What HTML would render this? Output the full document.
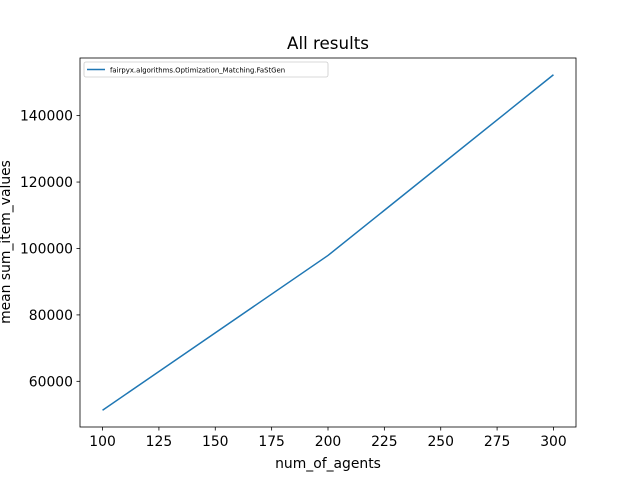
<!DOCTYPE html>
<html><head><meta charset="utf-8"><style>
body{margin:0;background:#fff;}
svg text{font-family:"DejaVu Sans","Liberation Sans",sans-serif;}
</style></head><body>
<svg id="chart" width="640" height="480" xmlns="http://www.w3.org/2000/svg">
<rect width="640" height="480" fill="#fff"/>
<text x="328" y="49" font-size="16.7" text-anchor="middle">All results</text>
<g id="xt"></g><g id="yt"></g>
<polyline id="line" fill="none" stroke="#1f77b4" stroke-width="1.5"/>
<rect x="80" y="58" width="496" height="369" fill="none" stroke="#000" stroke-width="0.8"/>
<text x="328" y="468" font-size="13.9" text-anchor="middle">num_of_agents</text>
<text transform="translate(10,242) rotate(-90)" font-size="13.9" text-anchor="middle">mean sum_item_values</text>
<g>
<rect x="84" y="62" width="244" height="15" fill="#fff" stroke="#ccc" stroke-width="0.8" rx="2"/>
<line x1="87" y1="69.5" x2="105" y2="69.5" stroke="#1f77b4" stroke-width="1.5"/>
<text x="110" y="72.5" font-size="6.9">fairpyx.algorithms.Optimization_Matching.FaStGen</text>
</g>
</svg>
<script>
const xs=[100,200,300];
const ys=[51300,97900,152300];
const xTicks=[100,125,150,175,200,225,250,275,300];
const yTicks=[60000,80000,100000,120000,140000];
const X0=80,X1=576,Y0=427,Y1=58;
const xmin=90,xmax=310;
const ypad=(Math.max(...ys)-Math.min(...ys))*0.05;
const ymin=Math.min(...ys)-ypad,ymax=Math.max(...ys)+ypad;
const sx=v=>X0+(v-xmin)/(xmax-xmin)*(X1-X0);
const sy=v=>Y0-(v-ymin)/(ymax-ymin)*(Y0-Y1);
const NS="http://www.w3.org/2000/svg";
const xt=document.getElementById('xt'),yt=document.getElementById('yt');
xTicks.forEach(t=>{const x=sx(t);
const l=document.createElementNS(NS,'line');l.setAttribute('x1',x);l.setAttribute('x2',x);l.setAttribute('y1',Y0);l.setAttribute('y2',Y0+3.5);l.setAttribute('stroke','#000');l.setAttribute('stroke-width','0.8');


xt.appendChild(l);
const s=document.createElementNS(NS,'text');s.setAttribute('x',x);s.setAttribute('y',Y0+19);s.setAttribute('font-size','13.9');s.setAttribute('text-anchor','middle');s.textContent=t;


xt.appendChild(s);});
yTicks.forEach(t=>{const y=sy(t);
const l=document.createElementNS(NS,'line');l.setAttribute('x1',X0-3.5);l.setAttribute('x2',X0);l.setAttribute('y1',y);l.setAttribute('y2',y);l.setAttribute('stroke','#000');l.setAttribute('stroke-width','0.8');


yt.appendChild(l);
const s=document.createElementNS(NS,'text');s.setAttribute('x',X0-7);s.setAttribute('y',y+5);s.setAttribute('font-size','13.9');s.setAttribute('text-anchor','end');s.textContent=t;


yt.appendChild(s);});
document.getElementById('line').setAttribute('points',xs.map((x,i)=>sx(x)+','+sy(ys[i])).join(' '));
</script>
</body></html>
